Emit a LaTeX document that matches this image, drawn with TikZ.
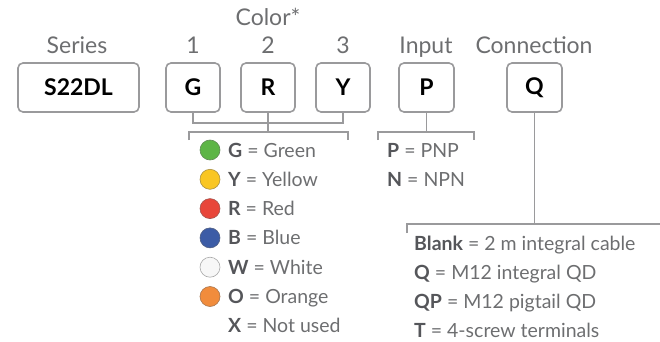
\documentclass[tikz,border=0pt]{standalone}
\usepackage{fontspec}
\setmainfont{Lato}
\definecolor{linegray}{HTML}{9A9A9C}
\definecolor{textgray}{HTML}{6D6E70}
\definecolor{keygray}{HTML}{55565A}
\definecolor{ledgreen}{HTML}{5DB546}
\definecolor{ledyellow}{HTML}{F9C623}
\definecolor{ledred}{HTML}{E8463A}
\definecolor{ledblue}{HTML}{3C5CA6}
\definecolor{ledwhite}{HTML}{F7F7F7}
\definecolor{ledorange}{HTML}{F18C3C}
\newcommand{\keyof}[1]{\textbf{\color{keygray}#1}}
\begin{document}
\begin{tikzpicture}[x=1pt, y=-1pt,
    field/.style={rectangle, draw=linegray, line width=1.6pt, rounded corners=5pt, minimum height=49pt, inner sep=0pt, text=black, font=\fontsize{23}{23}\selectfont\bfseries},
    head/.style={anchor=base, text=textgray, font=\fontsize{23}{23}\selectfont},
    entry/.style={anchor=base west, inner sep=0pt, text=textgray, font=\fontsize{19.5}{19.5}\selectfont},
    dot/.style={circle, minimum size=20pt, inner sep=0pt, line width=0.6pt},
    link/.style={draw=linegray, line width=1.6pt}]
    \useasboundingbox (0,0) rectangle (660,342);
    % code boxes
    \node [field, minimum width=121pt] (series) at (78.5,87.5) {S22DL};
    \node [field, minimum width=54pt] (color1) at (193,87.5) {G};
    \node [field, minimum width=54pt] (color2) at (268,87.5) {R};
    \node [field, minimum width=54pt] (color3) at (343,87.5) {Y};
    \node [field, minimum width=55pt] (input) at (426.5,87.5) {P};
    \node [field, minimum width=55pt] (conn) at (534.5,87.5) {Q};
    % headings
    \node [head] (serieshd) at (77,53.5) {Series};
    \node [head] (colorhd) at (268,25.5) {Color*};
    \node [head] (num1) at (193,53.5) {1};
    \node [head] (num2) at (268,53.5) {2};
    \node [head] (num3) at (343,53.5) {3};
    \node [head] (inputhd) at (426,53.5) {Input};
    \node [head] (connhd) at (534,53.5) {Connection};
    % color brackets
    \coordinate (cjoin) at (268,123);
    \coordinate (ctop) at (268,132);
    \coordinate (cleft) at (189,140);
    \coordinate (cright) at (348,140);
    \draw [link] (color1.south) |- (cjoin) -| (color3.south);
    \draw [link] (color2.south) -- (ctop);
    \draw [link] (cleft) |- (ctop) -| (cright);
    % color list
    \foreach \key/\name/\col [count=\i from 0] in {G/Green/ledgreen, Y/Yellow/ledyellow, R/Red/ledred, B/Blue/ledblue, W/White/ledwhite, O/Orange/ledorange} {
        \node [dot, fill=\col, draw=\col!80!black!60!gray] (dot\key) at (210,150+29.3*\i) {};
        \node [entry] (item\key) at (228,157+29.3*\i) {\keyof{\key} = \name};
    }
    \node [entry] (itemX) at (228,332.8) {\keyof{X} = Not used};
    % input bracket
    \coordinate (itop) at (426.5,132);
    \coordinate (ileft) at (378,140);
    \coordinate (iright) at (474,140);
    \draw [link] (input.south) -- (itop);
    \draw [link] (ileft) |- (itop) -| (iright);
    \node [entry] (itemP) at (387,157) {\keyof{P} = PNP};
    \node [entry] (itemN) at (387,186.3) {\keyof{N} = NPN};
    % connection bracket
    \coordinate (qtop) at (534.5,224);
    \coordinate (qleft) at (407,233);
    \coordinate (qend) at (660,224);
    \draw [link] (conn.south) -- (qtop);
    \draw [link] (qleft) |- (qend);
    \node [entry] (itemBlank) at (414,250) {\keyof{Blank} = 2 m integral cable};
    \node [entry] (itemQ) at (414,279) {\keyof{Q} = M12 integral QD};
    \node [entry] (itemQP) at (414,308) {\keyof{QP} = M12 pigtail QD};
    \node [entry] (itemT) at (414,337) {\keyof{T} = 4-screw terminals};
\end{tikzpicture}
\end{document}
